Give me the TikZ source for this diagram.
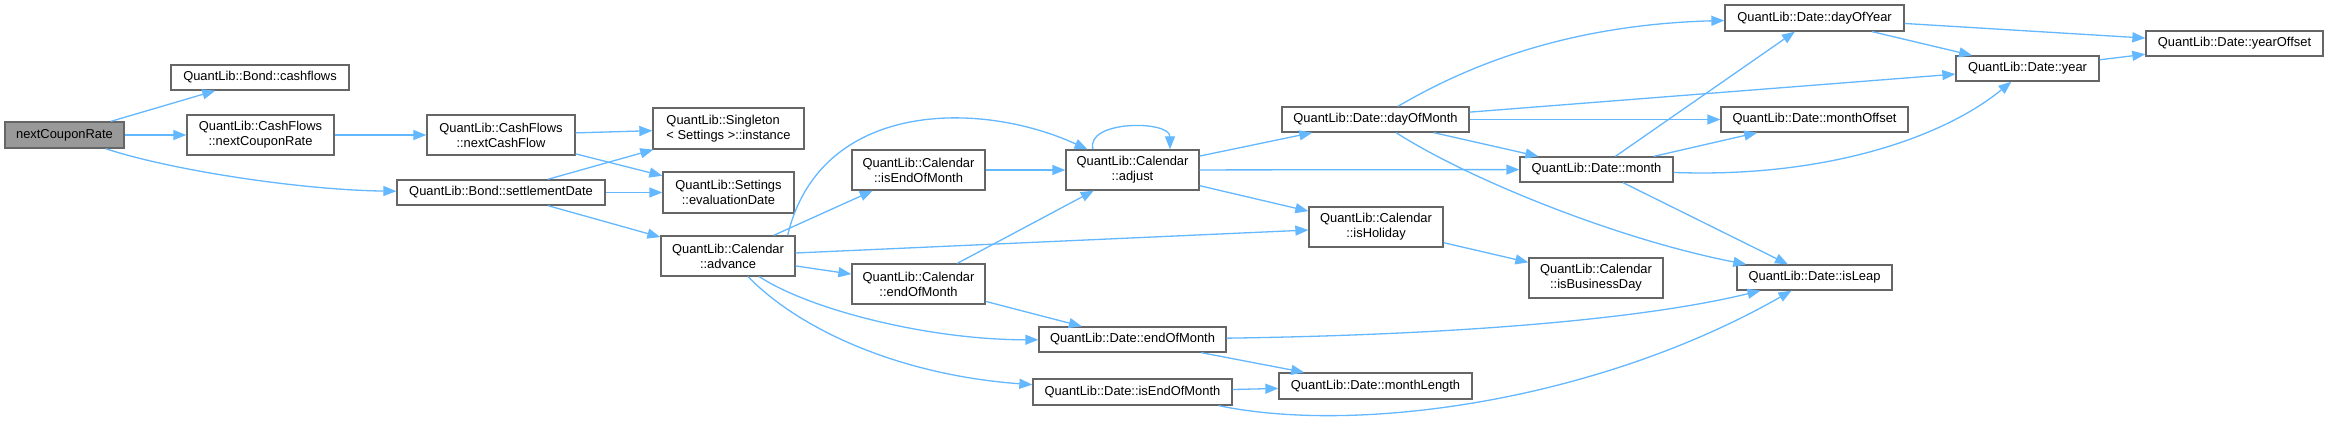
\documentclass[tikz,border=0pt]{standalone}
\usepackage{fontspec}
\setmainfont{Liberation Sans}
\usetikzlibrary{arrows.meta}
\definecolor{edgeblue}{HTML}{63B8FF}
\definecolor{boxgray}{HTML}{666666}
\definecolor{rootfill}{HTML}{999999}
\begin{document}
\begin{tikzpicture}[x=1pt,y=-1pt,
  fn/.style={draw=boxgray, fill=white, line width=1.3pt, inner sep=0pt, align=center,
             font=\fontsize{12.9}{15}\selectfont},
  root/.style={fn, fill=rootfill},
  wh/.style 2 args={minimum width=#1pt, minimum height=#2pt},
  call/.style={draw=edgeblue, line width=1.3pt, -{Triangle[length=13pt,width=10pt]}}
]
\fill[white] (0,0) rectangle (2328,425);
\useasboundingbox (0,0) rectangle (2328,425);

\node[root, wh={119}{26}] (ncr) at (64.5,135) {nextCouponRate};
\node[fn, wh={178}{25}] (cash) at (260,77.5) {QuantLib::Bond::cashflows};
\node[fn, wh={147}{40}] (cfncr) at (260.5,135) {QuantLib::CashFlows\\::nextCouponRate};
\node[fn, wh={148}{40}] (cfncf) at (501,135) {QuantLib::CashFlows\\::nextCashFlow};
\node[fn, wh={208}{25}] (sd) at (501,192.5) {QuantLib::Bond::settlementDate};
\node[fn, wh={151}{41}, align=left] (inst) at (728.5,128.5) {QuantLib::Singleton\\< Settings >::instance};
\node[fn, wh={131}{41}] (eval) at (728.5,192.5) {QuantLib::Settings\\::evaluationDate};
\node[fn, wh={134}{40}] (adv) at (728,256) {QuantLib::Calendar\\::advance};
\node[fn, wh={133}{40}] (cieom) at (918.5,170) {QuantLib::Calendar\\::isEndOfMonth};
\node[fn, wh={133}{40}] (adj) at (1132.5,170) {QuantLib::Calendar\\::adjust};
\node[fn, wh={133}{40}] (ceom) at (918.5,284) {QuantLib::Calendar\\::endOfMonth};
\node[fn, wh={187}{25}] (deom) at (1132.5,339.5) {QuantLib::Date::endOfMonth};
\node[fn, wh={199}{26}] (dieom) at (1132.5,392) {QuantLib::Date::isEndOfMonth};
\node[fn, wh={187}{25}] (dom) at (1375.5,119.5) {QuantLib::Date::dayOfMonth};
\node[fn, wh={134}{40}] (hol) at (1376,227) {QuantLib::Calendar\\::isHoliday};
\node[fn, wh={153}{25}] (month) at (1596.5,169.5) {QuantLib::Date::month};
\node[fn, wh={179}{26}] (doy) at (1814.5,18) {QuantLib::Date::dayOfYear};
\node[fn, wh={187}{25}] (moff) at (1814.5,119.5) {QuantLib::Date::monthOffset};
\node[fn, wh={134}{40}] (bday) at (1596,278) {QuantLib::Calendar\\::isBusinessDay};
\node[fn, wh={155}{25}] (leap) at (1814.5,277.5) {QuantLib::Date::isLeap};
\node[fn, wh={193}{26}] (mlen) at (1375.5,386) {QuantLib::Date::monthLength};
\node[fn, wh={143}{25}] (year) at (2027.5,68.5) {QuantLib::Date::year};
\node[fn, wh={177}{25}] (yoff) at (2234.5,43.5) {QuantLib::Date::yearOffset};

\draw[call] (ncr) -- (cash);
\draw[call] (ncr) -- (cfncr);
\draw[call] (ncr) .. controls (170,170) and (300,190) .. (sd);
\draw[call] (cfncr) -- (cfncf);
\draw[call] (cfncf) -- (inst);
\draw[call] (cfncf) -- (eval);
\draw[call] (sd) -- (inst);
\draw[call] (sd) -- (eval);
\draw[call] (sd) -- (adv);
\draw[call] ([xshift=-8pt]adv.north east) .. controls (820,100) and (980,100) .. (adj);
\draw[call] (adv) -- (cieom);
\draw[call] (adv) -- (ceom);
\draw[call] (adv) -- (hol);
\draw[call] (adv) .. controls (810,310) and (930,340) .. (deom);
\draw[call] (adv) .. controls (800,330) and (900,375) .. (dieom);
\draw[call] (cieom) -- (adj);
\draw[call] (ceom) -- (adj);
\draw[call] (ceom) -- (deom);
\draw[call] ([xshift=-39.5pt]adj.north) .. controls (1085,120) and (1170,120) .. ([xshift=37.5pt]adj.north);
\draw[call] (adj) -- (dom);
\draw[call] (adj) -- (month);
\draw[call] (adj) -- (hol);
\draw[call] (dom) .. controls (1460,70) and (1560,25) .. (doy);
\draw[call] (dom) -- (year);
\draw[call] (dom) -- (moff);
\draw[call] (dom) -- (month);
\draw[call] (dom) .. controls (1470,180) and (1620,240) .. (leap);
\draw[call] (month) -- (doy);
\draw[call] (month) -- (moff);
\draw[call] (month) .. controls (1820,178) and (1940,140) .. (year);
\draw[call] (month) -- (leap);
\draw[call] (hol) -- (bday);
\draw[call] (deom) .. controls (1450,335) and (1640,320) .. (leap);
\draw[call] (deom) -- (mlen);
\draw[call] (dieom) -- (mlen);
\draw[call] ([xshift=-14pt]dieom.south east) .. controls (1360,435) and (1600,400) .. (leap);
\draw[call] (doy) -- (yoff);
\draw[call] (doy) -- (year);
\draw[call] (year) -- (yoff);
\end{tikzpicture}
\end{document}
